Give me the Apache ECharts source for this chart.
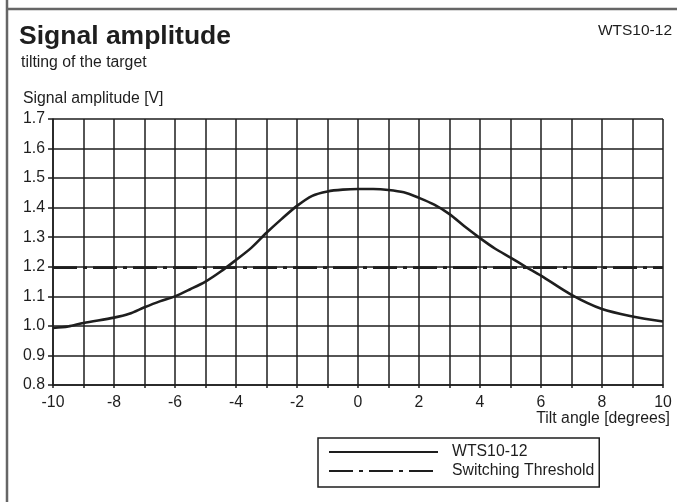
<!DOCTYPE html>
<html>
<head>
<meta charset="utf-8">
<script src="https://cdn.jsdelivr.net/npm/echarts@6/dist/echarts.min.js"></script>
<style>html,body{margin:0;padding:0;background:#fff}#c{width:677px;height:502px}</style>
</head>
<body>
<div id="c"></div>
<script>
var tiltAngles = [-10, -9.5, -9, -8, -7.5, -7, -6.5, -6, -5.5, -5, -4.5, -4, -3.5, -3, -2.5, -2, -1.5, -1, -0.5, 0, 0.5, 1, 1.5, 2, 2.5, 3, 3.5, 4, 4.5, 5, 5.5, 6, 7, 8, 9, 10];
var amplitude = [0.993, 0.998, 1.01, 1.028, 1.041, 1.063, 1.083, 1.10, 1.124, 1.15, 1.184, 1.223, 1.264, 1.315, 1.362, 1.406, 1.44, 1.455, 1.461, 1.463, 1.463, 1.46, 1.452, 1.433, 1.41, 1.378, 1.336, 1.297, 1.261, 1.231, 1.20, 1.17, 1.105, 1.057, 1.032, 1.015];
var thresholdX = [-10, 10];
var thresholdY = [1.197, 1.197];
var xTickLabels = ['-10', '-8', '-6', '-4', '-2', '0', '2', '4', '6', '8', '10'];
var yTickLabels = ['0.8', '0.9', '1.0', '1.1', '1.2', '1.3', '1.4', '1.5', '1.6', '1.7'];

var curve = tiltAngles.map(function (x, i) { return [x, amplitude[i]]; });
var thr = thresholdX.map(function (x, i) { return [x, thresholdY[i]]; });
var font = '"Liberation Sans", Arial, Helvetica, sans-serif';
var ink = '#1e1e1e';
var fs = 15.8;

var chart = echarts.init(document.getElementById('c'), null, {renderer: 'canvas'});
chart.setOption({
  backgroundColor: '#fff',
  animation: false,
  textStyle: {fontFamily: font, color: ink},
  title: [
    {text: 'Signal amplitude', left: 19, top: 23, padding: 0,
     textStyle: {fontFamily: font, fontSize: 26.5, fontWeight: 'bold', color: ink}},
    {text: 'tilting of the target', left: 21, top: 55, padding: 0,
     textStyle: {fontFamily: font, fontSize: fs, fontWeight: 'normal', color: ink}},
    {text: 'WTS10-12', right: 5, top: 23, padding: 0,
     textStyle: {fontFamily: font, fontSize: 15.5, fontWeight: 'normal', color: ink}}
  ],
  graphic: [
    {type: 'line', shape: {x1: 7, y1: 0, x2: 7, y2: 502}, style: {stroke: '#666', lineWidth: 2.5}},
    {type: 'line', shape: {x1: 6, y1: 9, x2: 677, y2: 9}, style: {stroke: '#666', lineWidth: 2.5}}
  ],
  grid: {left: 53, right: 14, top: 119, bottom: 117, containLabel: false, outerBoundsMode: 'none'},
  xAxis: {
    type: 'value', min: -10, max: 10, interval: 1,
    name: 'Tilt angle [degrees]', nameLocation: 'end', nameGap: 7,
    nameTextStyle: {fontFamily: font, fontSize: fs, color: ink, align: 'right', verticalAlign: 'top', padding: [26, 0, 0, 0]},
    axisLine: {onZero: false, lineStyle: {color: ink, width: 1.5}},
    axisTick: {show: true, length: 3, lineStyle: {color: ink, width: 1.5}},
    splitLine: {show: true, lineStyle: {color: ink, width: 1.5}},
    axisLabel: {
      fontFamily: font, fontSize: fs, color: ink, margin: 10,
      formatter: function (v) {
        var s = String(v);
        return xTickLabels.indexOf(s) >= 0 ? s : '';
      }
    }
  },
  yAxis: {
    type: 'value', min: 0.8, max: 1.7, interval: 0.1,
    name: 'Signal amplitude [V]', nameLocation: 'end', nameGap: 12,
    nameTextStyle: {fontFamily: font, fontSize: fs, color: ink, align: 'left', padding: [0, 0, 0, -30]},
    axisLine: {show: true, onZero: false, lineStyle: {color: ink, width: 1.5}},
    axisTick: {show: true, length: 5, lineStyle: {color: ink, width: 1.5}},
    splitLine: {show: true, lineStyle: {color: ink, width: 1.5}},
    axisLabel: {
      fontFamily: font, fontSize: fs, color: ink, margin: 8,
      formatter: function (v) {
        var s = v.toFixed(1);
        return yTickLabels.indexOf(s) >= 0 ? s : '';
      }
    }
  },
  legend: {
    orient: 'vertical', left: 318, top: 438,
    padding: [6, 5, 8, 10], itemGap: 3,
    itemWidth: 109, itemHeight: 15,
    borderColor: ink, borderWidth: 1.5,
    itemStyle: {opacity: 0},
    textStyle: {fontFamily: font, fontSize: fs, color: ink, width: 140, padding: [0, 0, 0, 9]},
    data: ['WTS10-12', 'Switching Threshold']
  },
  series: [
    {name: 'WTS10-12', type: 'line', data: curve, smooth: 0.3, showSymbol: false, symbol: 'none',
     lineStyle: {color: ink, width: 2.6}, itemStyle: {color: ink}, z: 3},
    {name: 'Switching Threshold', type: 'line', data: thr, showSymbol: false, symbol: 'none',
     lineStyle: {color: ink, width: 2.6, type: [24, 6, 4, 6]}, itemStyle: {color: ink}, z: 2}
  ]
});
</script>
</body>
</html>
